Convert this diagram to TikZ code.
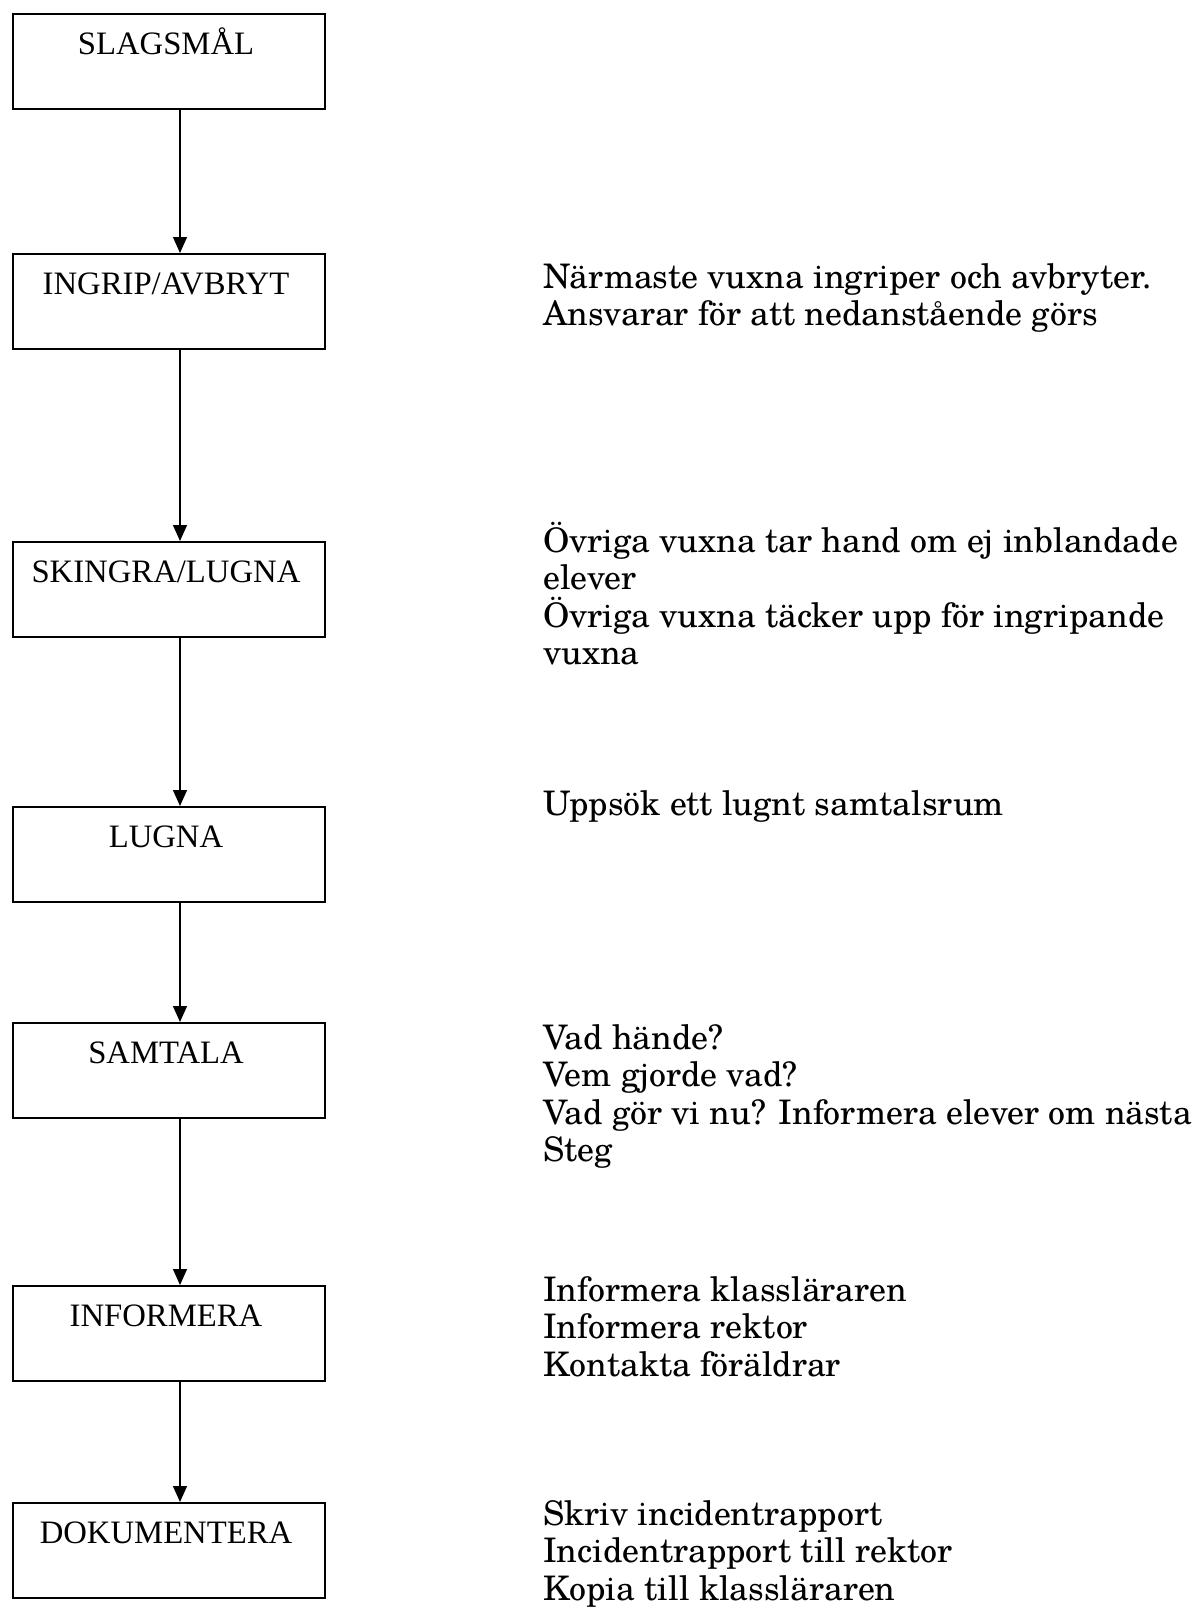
\documentclass[tikz,border=0pt]{standalone}
\usepackage{fontspec}
\setmainfont{Liberation Serif}
\newfontfamily\schola{TeX Gyre Schola}
\usetikzlibrary{arrows.meta}
\begin{document}
\begin{tikzpicture}[x=1pt,y=-1pt,
  stepbox/.style={draw, line width=2pt, minimum width=312pt, minimum height=95pt,
    inner xsep=0pt, inner ysep=0pt, text height=40pt, text depth=55pt,
    anchor=north west, font=\fontsize{32.7}{38}\selectfont,
    execute at end node={\hskip6pt}},
  flow/.style={line width=1.3pt, -{Triangle[width=14pt,length=16pt]}},
  note/.style={anchor=base west, inner sep=0pt, font=\fontsize{33.8}{37.5}\selectfont\schola}]
\useasboundingbox (0,0) rectangle (1199,1607);

\node[stepbox] (b1) at (12,13)   {SLAGSMÅL};
\node[stepbox] (b2) at (12,253)  {INGRIP/AVBRYT};
\node[stepbox] (b3) at (12,541)  {SKINGRA/LUGNA};
\node[stepbox] (b4) at (12,806)  {LUGNA};
\node[stepbox] (b5) at (12,1022) {SAMTALA};
\node[stepbox] (b6) at (12,1285) {INFORMERA};
\node[stepbox] (b7) at (12,1502) {DOKUMENTERA};

\coordinate (ax) at (180,0);
\draw[flow] (b1.south -| ax) -- (b2.north -| ax);
\draw[flow] (b2.south -| ax) -- (b3.north -| ax);
\draw[flow] (b3.south -| ax) -- (b4.north -| ax);
\draw[flow] (b4.south -| ax) -- (b5.north -| ax);
\draw[flow] (b5.south -| ax) -- (b6.north -| ax);
\draw[flow] (b6.south -| ax) -- (b7.north -| ax);

\node[note] (n2) at (543,288) {\vtop{\hbox{Närmaste vuxna ingriper och avbryter.}\hbox{Ansvarar för att nedanstående görs}}};
\node[note] (n3) at (543,552) {\vtop{\hbox{Övriga vuxna tar hand om ej inblandade}\hbox{elever}\hbox{Övriga vuxna täcker upp för ingripande}\hbox{vuxna}}};
\node[note] (n4) at (543,815) {\vtop{\hbox{Uppsök ett lugnt samtalsrum}}};
\node[note] (n5) at (543,1049) {\vtop{\hbox{Vad hände?}\hbox{Vem gjorde vad?}\hbox{Vad gör vi nu? Informera elever om nästa}\hbox{Steg}}};
\node[note] (n6) at (543,1301) {\vtop{\hbox{Informera klassläraren}\hbox{Informera rektor}\hbox{Kontakta föräldrar}}};
\node[note] (n7) at (543,1525) {\vtop{\hbox{Skriv incidentrapport}\hbox{Incidentrapport till rektor}\hbox{Kopia till klassläraren}}};
\end{tikzpicture}
\end{document}
